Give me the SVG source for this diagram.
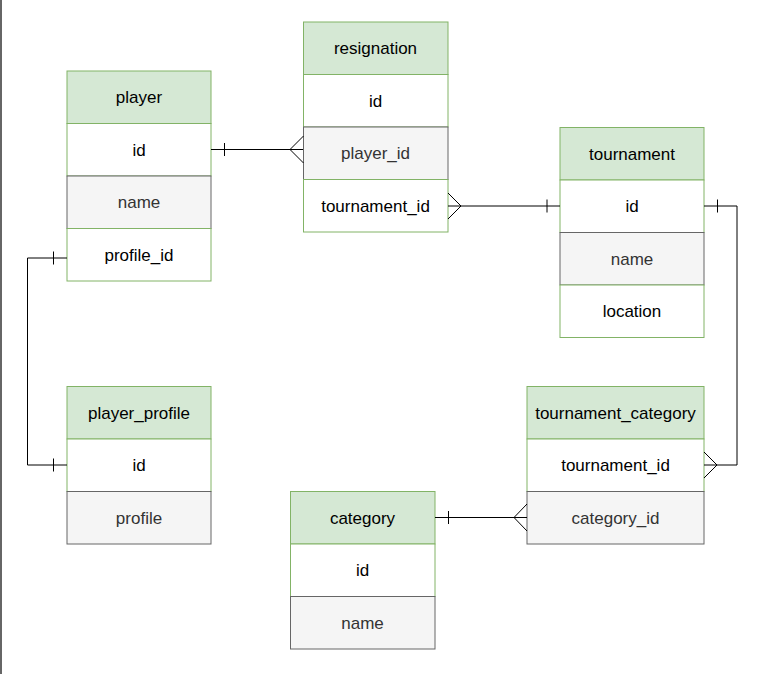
<svg xmlns="http://www.w3.org/2000/svg" width="762" height="674" viewBox="0 0 762 674">
<style>
.h{fill:#d5e8d4;stroke:#82b366;stroke-width:1}
.w{fill:#ffffff;stroke:#82b366;stroke-width:1}
.g{fill:#f5f5f5;stroke:#666666;stroke-width:1}
text{font-family:"Liberation Sans",Arial,sans-serif;font-size:17px;text-anchor:middle;fill:#000}
.gt{fill:#333333}
.c{fill:none;stroke:#000;stroke-width:1}
</style>
<rect x="0" y="0" width="762" height="674" fill="#ffffff"/>
<rect x="0" y="0" width="2" height="674" fill="#666666"/>
<g id="player">
<rect class="h" x="67" y="71" width="144" height="52.5"/>
<rect class="w" x="67" y="123.5" width="144" height="52.5"/>
<rect class="g" x="67" y="176" width="144" height="52.5"/>
<rect class="w" x="67" y="228.5" width="144" height="52.5"/>
<text x="139" y="103">player</text>
<text x="139" y="155.5">id</text>
<text class="gt" x="139" y="208">name</text>
<text x="139" y="260.5">profile_id</text>
</g>
<g id="resignation">
<rect class="h" x="303.5" y="22" width="144.5" height="52.5"/>
<rect class="w" x="303.5" y="74.5" width="144.5" height="52.5"/>
<rect class="g" x="303.5" y="127" width="144.5" height="52.5"/>
<rect class="w" x="303.5" y="179.5" width="144.5" height="52.5"/>
<text x="375.5" y="54">resignation</text>
<text x="375.5" y="106.5">id</text>
<text class="gt" x="375.5" y="159">player_id</text>
<text x="375.5" y="211.5">tournament_id</text>
</g>
<g id="tournament">
<rect class="h" x="560" y="127.5" width="144" height="52.5"/>
<rect class="w" x="560" y="180" width="144" height="52.5"/>
<rect class="g" x="560" y="232.5" width="144" height="52.5"/>
<rect class="w" x="560" y="285" width="144" height="52.5"/>
<text x="632" y="159.5">tournament</text>
<text x="632" y="212">id</text>
<text class="gt" x="632" y="264.5">name</text>
<text x="632" y="317">location</text>
</g>
<g id="player_profile">
<rect class="h" x="67" y="386.5" width="144" height="52.5"/>
<rect class="w" x="67" y="439" width="144" height="52.5"/>
<rect class="g" x="67" y="491.5" width="144" height="52.5"/>
<text x="139" y="418.5">player_profile</text>
<text x="139" y="471">id</text>
<text class="gt" x="139" y="523.5">profile</text>
</g>
<g id="tournament_category">
<rect class="h" x="527" y="386.5" width="177" height="52.5"/>
<rect class="w" x="527" y="439" width="177" height="52.5"/>
<rect class="g" x="527" y="491.5" width="177" height="52.5"/>
<text x="615.5" y="418.5">tournament_category</text>
<text x="615.5" y="471">tournament_id</text>
<text class="gt" x="615.5" y="523.5">category_id</text>
</g>
<g id="category">
<rect class="h" x="290.5" y="491.5" width="144.5" height="52.5"/>
<rect class="w" x="290.5" y="544" width="144.5" height="52.5"/>
<rect class="g" x="290.5" y="596.5" width="144.5" height="52.5"/>
<text x="362.5" y="523.5">category</text>
<text x="362.5" y="576">id</text>
<text class="gt" x="362.5" y="628.5">name</text>
</g>
<g id="connectors">
<path class="c" d="M211 149.5 H303 M224.5 143 V156 M290 149.5 L303.5 136 M290 149.5 L303.5 163"/>
<path class="c" d="M448 206 H560 M547 199.5 V212.5 M461 206 L448 193 M461 206 L448 219"/>
<path class="c" d="M704 206 H737 V465 H704 M717.5 199.5 V212.5 M717 465 L704 452 M717 465 L704 478"/>
<path class="c" d="M67 258 H27.5 V465 H67 M53.5 251.5 V264.5 M53.5 458.5 V471.5"/>
<path class="c" d="M435 517.5 H527 M448.5 511 V524 M514 517.5 L527 504 M514 517.5 L527 531"/>
</g>
</svg>
